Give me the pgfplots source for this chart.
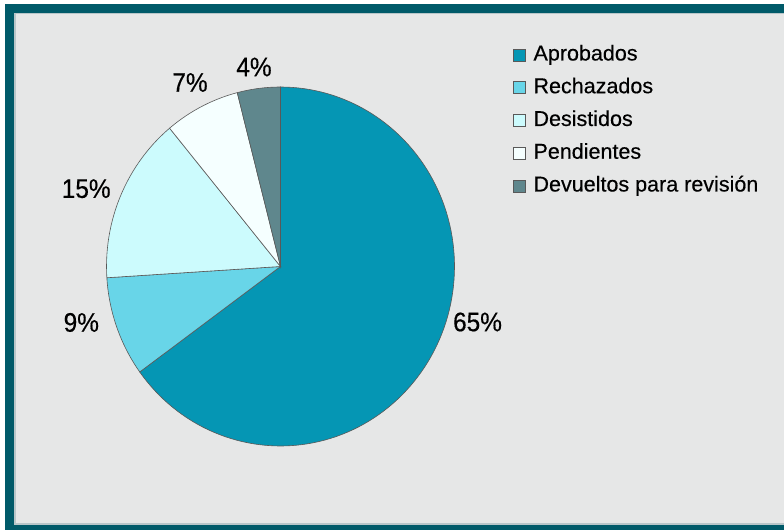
\documentclass[border=0pt]{standalone}
\usepackage{fontspec}
\setmainfont{Liberation Sans}
\newfontface\heavy{Liberation Sans}[FakeBold=0.4]
\usepackage{pgfplots}
\pgfplotsset{compat=1.18}
\definecolor{cA}{HTML}{0596B4}
\definecolor{cB}{HTML}{68D5E8}
\definecolor{cC}{HTML}{CCFBFD}
\definecolor{cD}{HTML}{F5FFFF}
\definecolor{cE}{HTML}{5F878D}
\definecolor{frame}{HTML}{005A69}
\definecolor{framelight}{HTML}{B8C6C9}
\definecolor{bg}{HTML}{E6E7E7}
% shares in percent, clockwise from 12 o'clock
\def\pA{65}\def\pB{9}\def\pC{15}\def\pD{7}\def\pE{4}
\pgfmathsetmacro\tA{90}
\pgfmathsetmacro\tB{\tA-3.6*\pA}
\pgfmathsetmacro\tC{\tB-3.6*\pB}
\pgfmathsetmacro\tD{\tC-3.6*\pC}
\pgfmathsetmacro\tE{\tD-3.6*\pD}
\pgfmathsetmacro\tF{\tE-3.6*\pE}
\def\cx{280.5}\def\cy{263.5}\def\rx{174}\def\ry{179.5}
\begin{document}
\begin{tikzpicture}[x=1bp,y=1bp]
\useasboundingbox (0,0) rectangle (784,530);
\fill[white] (0,0) rectangle (784,530);
\fill[frame] (5,0) rectangle (784,526);
\fill[framelight] (14,5) rectangle (784,517);
\fill[bg] (15.5,7) rectangle (784,515.5);
\begin{axis}[
  at={(0,0)}, anchor=south west,
  scale only axis, width=784bp, height=530bp,
  xmin=0, xmax=784, ymin=0, ymax=530,
  hide axis, clip=false,
  legend cell align=left,
  legend image code/.code={\draw[#1, draw=gray!70!black, line width=0.5bp] (0bp,-5.5bp) rectangle (12bp,6.5bp);},
  legend style={at={(axis cs:513,484.5)}, anchor=north west, draw=none, fill=none,
    inner sep=0pt, outer sep=0pt, row sep=12.75bp,
    font=\heavy\fontsize{21.6}{22}\selectfont, text=black,
    nodes={inner sep=0pt, text height=15bp, text depth=5bp},
    /tikz/every odd column/.append style={column sep=8bp}},
]
\addplot[fill=cA, draw=black!65, line width=0.6bp, domain=\tB:\tA, samples=120, variable=\t]
  ({\cx+\rx*cos(t)},{\cy+\ry*sin(t)}) -- (axis cs:\cx,\cy) -- cycle;
\addlegendentry{Aprobados}
\addplot[fill=cB, draw=black!65, line width=0.6bp, domain=\tC:\tB, samples=20, variable=\t]
  ({\cx+\rx*cos(t)},{\cy+\ry*sin(t)}) -- (axis cs:\cx,\cy) -- cycle;
\addlegendentry{Rechazados}
\addplot[fill=cC, draw=black!65, line width=0.6bp, domain=\tD:\tC, samples=30, variable=\t]
  ({\cx+\rx*cos(t)},{\cy+\ry*sin(t)}) -- (axis cs:\cx,\cy) -- cycle;
\addlegendentry{Desistidos}
\addplot[fill=cD, draw=black!65, line width=0.6bp, domain=\tE:\tD, samples=16, variable=\t]
  ({\cx+\rx*cos(t)},{\cy+\ry*sin(t)}) -- (axis cs:\cx,\cy) -- cycle;
\addlegendentry{Pendientes}
\addplot[fill=cE, draw=black!65, line width=0.6bp, domain=\tF:\tE, samples=10, variable=\t]
  ({\cx+\rx*cos(t)},{\cy+\ry*sin(t)}) -- (axis cs:\cx,\cy) -- cycle;
\addlegendentry{Devueltos para revisión}
\begin{scope}[every node/.style={font=\heavy\fontsize{24.5}{25}\selectfont, text=black, inner sep=0pt}]
\node at (axis cs:477.5,208) {\scalebox{1}[1.1]{65\%}};
\node at (axis cs:81.3,207.5) {\scalebox{1}[1.1]{9\%}};
\node at (axis cs:86.2,341.3) {\scalebox{1}[1.1]{15\%}};
\node at (axis cs:190,447.5) {\scalebox{1}[1.1]{7\%}};
\node at (axis cs:254,463) {\scalebox{1}[1.1]{4\%}};
\end{scope}
\end{axis}
\end{tikzpicture}
\end{document}
